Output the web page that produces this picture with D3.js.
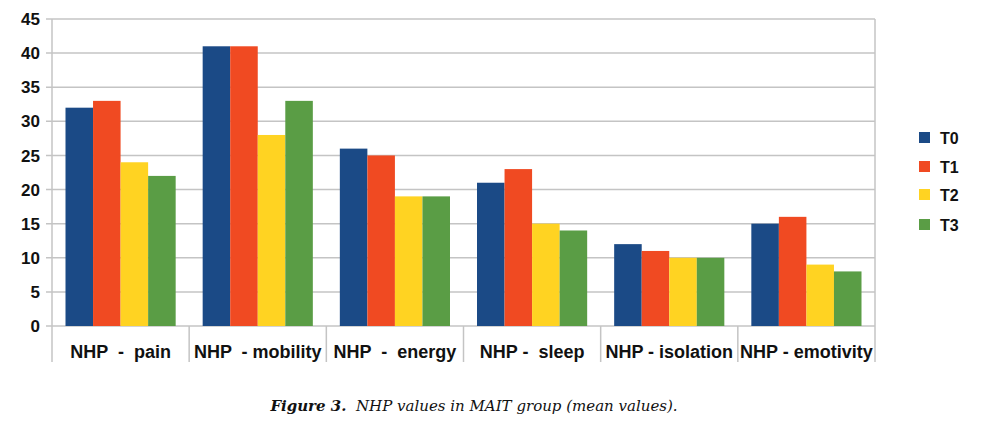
<!DOCTYPE html>
<html>
<head>
<meta charset="utf-8">
<script src="https://cdn.jsdelivr.net/npm/d3@7"></script>
<style>
  body { margin: 0; background: #fff; overflow: hidden; }
  svg { display: block; }
  svg text { font-family: "Liberation Sans", Arial, sans-serif; }
</style>
</head>
<body>
<svg id="wrapper"></svg>
<script>
// data
let categories = ["NHP  -  pain", "NHP  - mobility", "NHP  -  energy", "NHP -  sleep", "NHP - isolation", "NHP - emotivity"];
let seriesNames = ["T0", "T1", "T2", "T3"];
let t0 = [32, 41, 26, 21, 12, 15];
let t1 = [33, 41, 25, 23, 11, 16];
let t2 = [24, 28, 19, 15, 10, 9];
let t3 = [22, 33, 19, 14, 10, 8];
let yTicks = [0, 5, 10, 15, 20, 25, 30, 35, 40, 45];
let colors = ["#1b4a86", "#f04a22", "#ffd322", "#5a9d45"];

let series = [t0, t1, t2, t3];
let width = 989, height = 428;
let plotLeft = 52, plotRight = 875, plotTop = 19, plotBottom = 326;

let svg = d3.select('#wrapper')
  .attr('width', width)
  .attr('height', height);

let xScale = d3.scaleBand()
  .domain(categories)
  .range([plotLeft, plotRight])
  .paddingInner(0)
  .paddingOuter(0);

let inner = d3.scaleBand()
  .domain(seriesNames)
  .range([13.5, xScale.bandwidth() - 13.5]);

let yScale = d3.scaleLinear()
  .domain([0, 45])
  .range([plotBottom, plotTop]);

// gridlines
svg.append('g')
  .selectAll('line')
  .data(yTicks)
  .enter().append('line')
  .attr('x1', plotLeft - 6)
  .attr('x2', plotRight)
  .attr('y1', d => yScale(d))
  .attr('y2', d => yScale(d))
  .attr('stroke', '#c4c4c4')
  .attr('stroke-width', 1.5);

// y labels
svg.append('g')
  .selectAll('text')
  .data(yTicks)
  .enter().append('text')
  .attr('x', 40)
  .attr('y', d => yScale(d))
  .attr('dy', '0.36em')
  .attr('text-anchor', 'end')
  .attr('font-size', 17)
  .attr('font-weight', 'bold')
  .attr('fill', '#111')
  .text(d => d);

// category separators and frame
let seps = [plotLeft].concat(categories.map(c => xScale(c) + xScale.bandwidth()));
svg.append('g')
  .selectAll('line')
  .data(seps)
  .enter().append('line')
  .attr('x1', d => d)
  .attr('x2', d => d)
  .attr('y1', (d, i) => (i === 0 || i === seps.length - 1) ? plotTop : plotBottom)
  .attr('y2', 362)
  .attr('stroke', '#c4c4c4')
  .attr('stroke-width', 1.5);

// bars
let groups = svg.append('g')
  .selectAll('g')
  .data(series)
  .enter().append('g')
  .attr('fill', (d, i) => colors[i]);

groups.each(function(vals, si) {
  d3.select(this).selectAll('rect')
    .data(vals)
    .enter().append('rect')
    .attr('x', (d, ci) => xScale(categories[ci]) + inner(seriesNames[si]))
    .attr('width', inner.bandwidth())
    .attr('y', d => yScale(d))
    .attr('height', d => yScale(0) - yScale(d));
});

// category labels
svg.append('g')
  .selectAll('text')
  .data(categories)
  .enter().append('text')
  .attr('x', d => xScale(d) + xScale.bandwidth() / 2)
  .attr('y', 358)
  .attr('text-anchor', 'middle')
  .attr('font-size', 18)
  .attr('font-weight', 'bold')
  .attr('fill', '#111')
  .style('white-space', 'pre')
  .text(d => d);

// legend
let legendY = [138, 167, 195, 225];
let legend = svg.append('g')
  .selectAll('g')
  .data(seriesNames)
  .enter().append('g')
  .attr('transform', (d, i) => 'translate(919,' + legendY[i] + ')');

legend.append('rect')
  .attr('x', 0)
  .attr('y', -6)
  .attr('width', 11)
  .attr('height', 11)
  .attr('fill', (d, i) => colors[i]);

legend.append('text')
  .attr('x', 21)
  .attr('y', 0)
  .attr('dy', '0.36em')
  .attr('font-size', 16)
  .attr('font-weight', 'bold')
  .attr('fill', '#111')
  .text(d => d);

// caption
let cap = svg.append('text')
  .attr('x', 474)
  .attr('y', 411)
  .attr('text-anchor', 'middle')
  .attr('font-size', 15)
  .style('font-family', '"DejaVu Serif", "Liberation Serif", serif')
  .style('font-style', 'italic')
  .attr('fill', '#111');
cap.append('tspan').attr('font-weight', 'bold').text('Figure 3.');
cap.append('tspan').style('white-space', 'pre').text('  NHP values in MAIT group (mean values).');
</script>
</body>
</html>
